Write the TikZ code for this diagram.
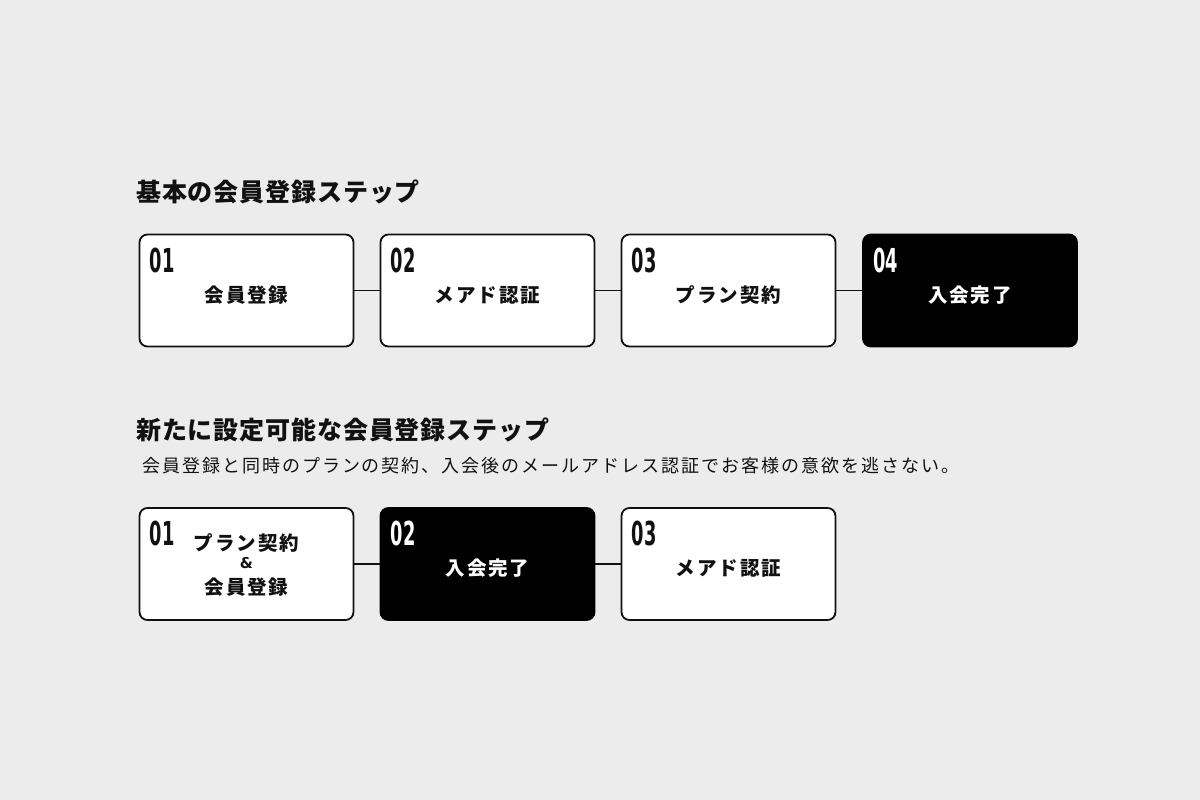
\documentclass[tikz,border=0pt]{standalone}
\usepackage{fontspec}
\usetikzlibrary{calc}
\newfontfamily\jptitle[LetterSpace=3.5]{Noto Sans CJK JP}
\newfontfamily\jplabel[LetterSpace=10]{Noto Sans CJK JP}
\newfontfamily\jpsub[LetterSpace=11]{Noto Sans CJK JP}
\newfontfamily\numfont{DejaVu Sans}
\definecolor{bgc}{HTML}{ECECEC}
\definecolor{ink}{HTML}{111111}
\tikzset{
  stepbox/.style={draw=ink, fill=white, line width=1.8pt, rounded corners=8pt,
    minimum width=214pt, minimum height=112pt, inner sep=0pt},
  donebox/.style={stepbox, fill=black, draw=black},
  numlabel/.style={anchor=north west, inner sep=0pt, text=ink, font=\numfont\bfseries\fontsize{33}{33}\selectfont},
  steplabel/.style={inner sep=0pt, text=ink, align=center, font=\jplabel\bfseries\fontsize{19.5}{24}\selectfont},
  title/.style={anchor=west, inner sep=0pt, text=ink, font=\jptitle\bfseries\fontsize{25}{28}\selectfont},
  conn/.style={draw=ink, line width=1.8pt}
}
\begin{document}
\begin{tikzpicture}[x=1pt,y=-1pt]
\fill[bgc] (0,0) rectangle (1200,800);
\useasboundingbox (0,0) rectangle (1200,800);

\node[title] (t1) at (136,192) {基本の会員登録ステップ};

\node[stepbox] (a1) at (246.5,290.5) {};
\node[stepbox] (a2) at (487.5,290.5) {};
\node[stepbox] (a3) at (728.5,290.5) {};
\node[donebox] (a4) at (970,290.5) {};
\draw[conn] (a1.east) -- (a2.west);
\draw[conn] (a2.east) -- (a3.west);
\draw[conn] (a3.east) -- (a4.west);

\node[numlabel] (an1) at ($(a1.north west)+(11,14)$) {\scalebox{0.54}[1]{01}};
\node[numlabel] (an2) at ($(a2.north west)+(11,14)$) {\scalebox{0.54}[1]{02}};
\node[numlabel] (an3) at ($(a3.north west)+(11,14)$) {\scalebox{0.54}[1]{03}};
\node[numlabel, text=white] (an4) at ($(a4.north west)+(11,14)$) {\scalebox{0.54}[1]{04}};

\node[steplabel] (al1) at ($(a1.center)+(0,5)$) {会員登録};
\node[steplabel] (al2) at ($(a2.center)+(0,5)$) {メアド認証};
\node[steplabel] (al3) at ($(a3.center)+(0,5)$) {プラン契約};
\node[steplabel, text=white] (al4) at ($(a4.center)+(0,5)$) {入会完了};

\node[title] (t2) at (136,430) {新たに設定可能な会員登録ステップ};
\node[anchor=west, inner sep=0pt, text=ink, font=\jpsub\fontsize{18}{20}\selectfont] (sub) at (142,466) {会員登録と同時のプランの契約、入会後のメールアドレス認証でお客様の意欲を逃さない。};

\node[stepbox] (b1) at (246.5,564) {};
\node[donebox] (b2) at (487.5,564) {};
\node[stepbox] (b3) at (728.5,564) {};
\draw[conn] (b1.east) -- (b2.west);
\draw[conn] (b2.east) -- (b3.west);

\node[numlabel] (bn1) at ($(b1.north west)+(11,14)$) {\scalebox{0.54}[1]{01}};
\node[numlabel, text=white] (bn2) at ($(b2.north west)+(11,14)$) {\scalebox{0.54}[1]{02}};
\node[numlabel] (bn3) at ($(b3.north west)+(11,14)$) {\scalebox{0.54}[1]{03}};

\node[steplabel] (bl1a) at ($(b1.center)+(0,-21)$) {プラン契約};
\node[steplabel, font=\numfont\bfseries\fontsize{15}{18}\selectfont] (bl1b) at ($(b1.center)+(0,-1)$) {\&};
\node[steplabel] (bl1c) at ($(b1.center)+(0,23)$) {会員登録};
\node[steplabel, text=white] (bl2) at ($(b2.center)+(0,4)$) {入会完了};
\node[steplabel] (bl3) at ($(b3.center)+(0,4)$) {メアド認証};
\end{tikzpicture}
\end{document}
